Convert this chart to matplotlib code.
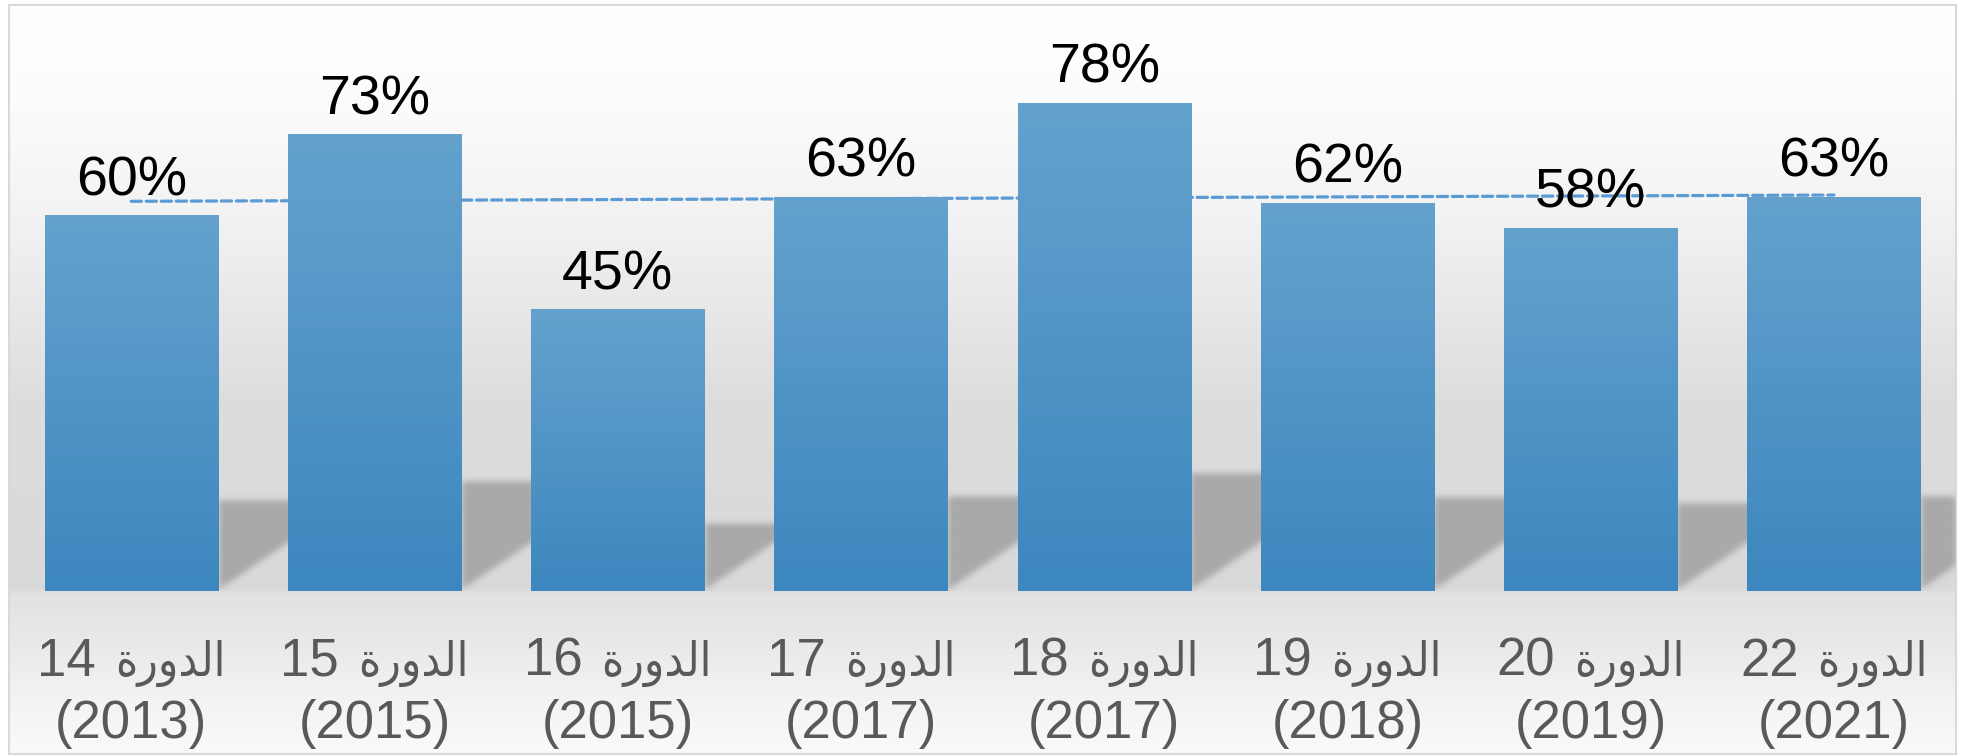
import numpy as np
import matplotlib
matplotlib.use("Agg")
import matplotlib.pyplot as plt
from matplotlib.colors import to_rgb
from matplotlib import font_manager

# ---------------- data ----------------
word = "الدورة"
sessions = ["14", "15", "16", "17", "18", "19", "20", "22"]
years = ["2013", "2015", "2015", "2017", "2017", "2018", "2019", "2021"]
values = [60, 73, 45, 63, 78, 62, 58, 63]
value_labels = ["60%", "73%", "45%", "63%", "78%", "62%", "58%", "63%"]

# ------------- minimal Arabic shaping (matplotlib has no bidi/shaping) -------------
FORMS = {  # isolated, final, initial, medial
    "ا": ("\uFE8D", "\uFE8E", None, None),
    "ل": ("\uFEDD", "\uFEDE", "\uFEDF", "\uFEE0"),
    "د": ("\uFEA9", "\uFEAA", None, None),
    "و": ("\uFEED", "\uFEEE", None, None),
    "ر": ("\uFEAD", "\uFEAE", None, None),
    "ة": ("\uFE93", "\uFE94", None, None),
}


def shape_arabic(s):
    out = []
    for i, ch in enumerate(s):
        if ch not in FORMS:
            out.append(ch)
            continue
        prev = s[i - 1] if i > 0 else None
        nxt = s[i + 1] if i + 1 < len(s) else None
        join_prev = prev in FORMS and FORMS[prev][2] is not None
        join_next = FORMS[ch][2] is not None and nxt in FORMS
        iso, fin, ini, med = FORMS[ch]
        if join_prev and join_next:
            out.append(med)
        elif join_prev:
            out.append(fin)
        elif join_next:
            out.append(ini)
        else:
            out.append(iso)
    return "".join(out)[::-1]  # visual (left-to-right) order


word_visual = shape_arabic(word)

# Arabic font: prefer condensed DejaVu if installed
cond_path = font_manager.findfont(font_manager.FontProperties(family="DejaVu Sans", stretch="condensed"))
if "Condensed" in cond_path:
    ar_props = dict(family="DejaVu Sans", fontstretch="condensed", fontsize=34)
else:
    ar_props = dict(family="DejaVu Sans", fontsize=31)

# ---------------- figure ----------------
W, H = 1961, 756
fig = plt.figure(figsize=(W / 100, H / 100), dpi=100)
fig.patch.set_facecolor("white")

# background frame with vertical gradient
fx0, fy0, fx1, fy1 = 9, 5, 1956, 754  # pixel frame (top-left origin)
bg = fig.add_axes([fx0 / W, (H - fy1) / H, (fx1 - fx0) / W, (fy1 - fy0) / H], zorder=0)
rows = np.arange(fy0, fy1 + 1)
stop_px = [5, 100, 200, 300, 400, 588, 596, 650, 700, 754]
stop_gray = [255, 252, 244, 233, 221, 217, 226, 234, 243, 250]
g = np.interp(rows, stop_px, stop_gray) / 255.0
grad = np.repeat(g[:, None], 2, axis=1)
bg.imshow(np.dstack([grad, grad, grad]), extent=(0, 1, 0, 1), aspect="auto",
          interpolation="bilinear", origin="upper")
bg.set_xticks([])
bg.set_yticks([])
for sp in bg.spines.values():
    sp.set_color("#d9d9d9")
    sp.set_linewidth(1.5)

# main plot axes
base_px = 591
px_per = 6.26
ax_top_px = 5
ax = fig.add_axes([9.6 / W, (H - base_px) / H, 1946 / W, (base_px - ax_top_px) / H], zorder=1)
ax.patch.set_visible(False)
ymax = (base_px - ax_top_px) / px_per
x = np.arange(len(values))
bw = 0.713

# shadows (decorative), computed from bar geometry and blurred
sy_max = 25.0
nx, ny = 1946, int(sy_max * px_per)
gx = np.linspace(-0.5, 7.5, nx)
gy = np.linspace(0, sy_max, ny)
XX, YY = np.meshgrid(gx, gy)
mask = np.zeros_like(XX)
slope = 0.68 * (1946 / 8) / px_per
for xi, v in zip(x, values):
    xr = xi + bw / 2
    s = 0.24 * v
    m = (XX >= xr) & (YY <= s) & (YY >= (XX - xr) * slope + 0.15)
    mask[m] = 1.0
sig = 3.0
k = np.exp(-0.5 * (np.arange(-10, 11) / sig) ** 2)
k /= k.sum()
mask = np.apply_along_axis(lambda r: np.convolve(r, k, mode="same"), 1, mask)
mask = np.apply_along_axis(lambda c: np.convolve(c, k, mode="same"), 0, mask)
sc = to_rgb("#a9a9a9")
shadow = np.zeros((ny, nx, 4))
shadow[..., 0], shadow[..., 1], shadow[..., 2] = sc
shadow[..., 3] = np.clip(mask, 0, 1)
ax.imshow(shadow, extent=(-0.5, 7.5, 0, sy_max), origin="lower", aspect="auto",
          interpolation="bilinear", zorder=1)

# trend line (linear fit)
coef = np.polyfit(x, values, 1)
ax.plot(x, np.polyval(coef, x), color="#5b9bd5", lw=2.3,
        linestyle=(0, (3.2, 1.5)), dash_capstyle="round", zorder=2)

# gradient bars
bars = ax.bar(x, values, width=bw, color="none", edgecolor="none", zorder=3)
top_c = np.array(to_rgb("#64a2cd"))
bot_c = np.array(to_rgb("#3c87bf"))
tg = np.linspace(0, 1, 256)[:, None]
bar_grad = (top_c[None, :] * (1 - tg) + bot_c[None, :] * tg)[:, None, :]
for b in bars:
    x0, y0 = b.get_x(), b.get_y()
    im = ax.imshow(bar_grad, extent=(x0, x0 + b.get_width(), y0, y0 + b.get_height()),
                   origin="upper", aspect="auto", interpolation="bilinear", zorder=3)
    im.set_clip_path(b)

# value labels
for xi, v, lab in zip(x, values, value_labels):
    ax.annotate(lab, (xi, v), xytext=(0, 14.4), textcoords="offset points",
                ha="center", va="baseline", fontsize=40, color="black",
                family=["Liberation Sans", "DejaVu Sans"], zorder=5)

ax.set_xlim(-0.5, 7.5)
ax.set_ylim(0, ymax)
ax.set_xticks([])
ax.set_yticks([])
for sp in ax.spines.values():
    sp.set_visible(False)

# category labels (two lines): "NN <arabic word>" then "(YYYY)"
renderer = fig.canvas.get_renderer()
lab_color = "#595959"
gap_px = 19
for xi, sn, yr in zip(x, sessions, years):
    cx = ax.transData.transform((xi, 0))[0]
    t_num = fig.text(0, 1 - 676 / H, sn, ha="left", va="baseline", fontsize=38,
                     color=lab_color, family="Liberation Sans")
    t_ar = fig.text(0, 1 - 676 / H, word_visual, ha="left", va="baseline",
                    color=lab_color, **ar_props)
    w_num = t_num.get_window_extent(renderer).width
    w_ar = t_ar.get_window_extent(renderer).width
    left = cx - (w_num + gap_px + w_ar) / 2
    t_num.set_x(left / W)
    t_ar.set_x((left + w_num + gap_px) / W)
    fig.text(cx / W, 1 - 738 / H, f"({yr})", ha="center", va="baseline", fontsize=38,
             color=lab_color, family="Liberation Sans")

fig.savefig("out.png", dpi=100)
